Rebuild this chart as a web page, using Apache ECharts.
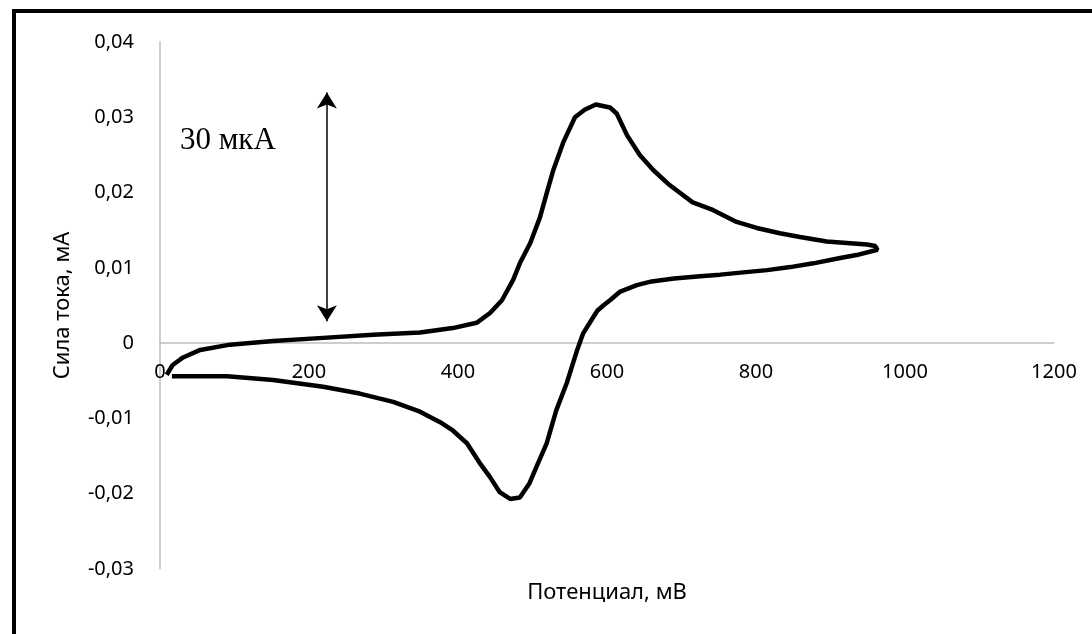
<!DOCTYPE html>
<html>
<head>
<meta charset="utf-8">
<script src="https://cdn.jsdelivr.net/npm/echarts@6/dist/echarts.min.js"></script>
<style>
    html, body { margin: 0; padding: 0; background: #fff; }
    #chart { width: 1092px; height: 634px; }
</style>
</head>
<body>
<div id="chart"></div>
<script>
    // прямой ход развёртки (мВ / мА)
    var potentialFwd = [9, 17, 31, 54, 94, 152, 219, 286, 349, 393, 425, 443, 459, 474, 483, 497, 510, 519, 528, 541, 557, 570, 585, 604, 613, 627, 644, 662, 684, 715, 742, 774, 801, 832, 859, 895, 922, 949, 960, 963];
    var currentFwd = [-0.0042, -0.0029, -0.0019, -0.0009, -0.0002, 0.0003, 0.0007, 0.0011, 0.0014, 0.0020, 0.0027, 0.0040, 0.0057, 0.0084, 0.0106, 0.0133, 0.0167, 0.0199, 0.0230, 0.0266, 0.0300, 0.0310, 0.0317, 0.0313, 0.0305, 0.0276, 0.0250, 0.0230, 0.0210, 0.0187, 0.0177, 0.0161, 0.0153, 0.0146, 0.0141, 0.0135, 0.0133, 0.0131, 0.0129, 0.0124];

    // обратный ход
    var potentialRev = [935, 913, 877, 846, 815, 783, 752, 725, 690, 660, 640, 617, 604, 595, 587, 580, 568, 560, 546, 532, 519, 505, 496, 483, 470, 456, 443, 429, 412, 393, 376, 349, 313, 268, 219, 152, 90, 16];
    var currentRev = [0.0117, 0.0113, 0.0106, 0.0101, 0.0097, 0.0094, 0.0091, 0.0089, 0.0086, 0.0082, 0.0077, 0.0068, 0.0057, 0.0050, 0.0043, 0.0032, 0.0013, -0.0009, -0.0053, -0.0089, -0.0133, -0.0165, -0.0186, -0.0205, -0.0207, -0.0198, -0.0178, -0.0159, -0.0133, -0.0116, -0.0105, -0.0091, -0.0078, -0.0067, -0.0058, -0.0049, -0.0044, -0.0044];

    // стрелка "30 мкА"
    var arrowX = 224,
        arrowY = [0.0333, 0.0029];

    var yMin = -0.03,
        yMax = 0.04;

    var curve = [];
    potentialFwd.forEach(function (x, i) { curve.push([x, currentFwd[i]]); });
    potentialRev.forEach(function (x, i) { curve.push([x, currentRev[i]]); });

    var gridTop = 42,
        gridBottom = 65,
        plotH = 634 - gridTop - gridBottom;

    // ось X проходит через ноль: сдвигаем её вверх от нижнего края
    var zeroOffset = -plotH * (0 - yMin) / (yMax - yMin);

    var chart = echarts.init(document.getElementById('chart'));

    var labelFont = 'Noto Sans';

    chart.setOption({
        animation: false,
        backgroundColor: '#fff',
        grid: { left: 160, right: 38, top: gridTop, bottom: gridBottom },
        xAxis: {
            type: 'value',
            min: 0,
            max: 1200,
            interval: 200,
            offset: zeroOffset,
            axisLine: { onZero: false, lineStyle: { color: '#bfbfbf', width: 1.5 } },
            axisTick: { show: false },
            splitLine: { show: false },
            axisLabel: {
                color: '#000', fontFamily: labelFont, fontSize: 20, margin: 19,
                formatter: function (v) { return String(v); }
            }
        },
        yAxis: {
            type: 'value',
            min: yMin,
            max: yMax,
            interval: 0.01,
            name: 'Сила тока, мА',
            nameLocation: 'middle',
            nameGap: 86,
            nameTextStyle: { color: '#000', fontFamily: labelFont, fontSize: 22 },
            axisLine: { show: true, onZero: false, lineStyle: { color: '#bfbfbf', width: 1.5 } },
            axisTick: { show: false },
            splitLine: { show: false },
            axisLabel: {
                color: '#000',
                fontFamily: labelFont,
                fontSize: 20,
                margin: 26,
                formatter: function (v) {
                    if (Math.abs(v) < 1e-9) return '0';
                    return v.toFixed(2).replace('.', ',');
                }
            }
        },
        series: [{
            type: 'line',
            data: curve,
            showSymbol: false,
            lineStyle: { color: '#000', width: 4.5 },
            markLine: {
                silent: true,
                symbol: ['arrow', 'arrow'],
                symbolSize: [15, 16],
                label: { show: false },
                lineStyle: { color: '#000', width: 1.5, type: 'solid' },
                data: [[
                    { coord: [arrowX, arrowY[0]] },
                    { coord: [arrowX, arrowY[1]] }
                ]]
            }
        }],
        graphic: [
            { type: 'rect', shape: { x: 12, y: 9, width: 4, height: 625 }, style: { fill: '#000' } },
            { type: 'rect', shape: { x: 12, y: 9, width: 1080, height: 4 }, style: { fill: '#000' } },
            {
                type: 'text', left: 180, top: 125,
                style: { text: '30 мкА', fill: '#000', font: '31px "Liberation Serif"' }
            },
            {
                type: 'text', x: 607, y: 593,
                style: { text: 'Потенциал, мВ', fill: '#000', font: '22px "Noto Sans"', align: 'center', verticalAlign: 'middle' }
            }
        ]
    });
</script>
</body>
</html>
